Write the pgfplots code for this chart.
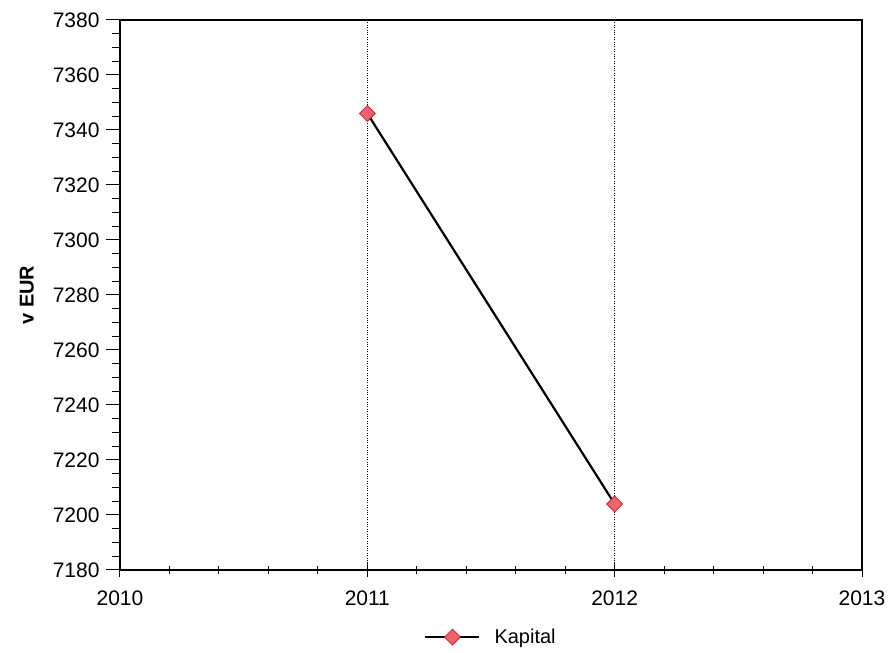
\documentclass[border=0pt]{standalone}
\usepackage{pgfplots}
\pgfplotsset{compat=1.18}
\usepackage{fontspec}
\setmainfont{Liberation Sans}
\definecolor{mk}{HTML}{F2626C}
\definecolor{mkd}{HTML}{D0202A}
\begin{document}
\begin{tikzpicture}
\begin{axis}[
  name=ax,
  scale only axis,
  width=742pt, height=550pt,
  xmin=2010, xmax=2013, ymin=7180, ymax=7380,
  xtick={2010,2011,2012,2013},
  xticklabels={2010,2011,2012,2013},
  ytick={7180,7200,...,7380},
  minor x tick num=4,
  minor y tick num=3,
  tick style={black, line width=1pt},
  major tick length=14pt,
  minor tick length=8pt,
  axis line style={black, line width=1.3pt},
  xtick pos=bottom, ytick pos=left,
  xtick align=center,
  ytick align=outside,
  xmajorgrids,
  major x grid style={black, dotted, line width=0.8pt},
  /pgf/number format/assume math mode=true,
  /pgf/number format/1000 sep={},
  ticklabel style={font=\fontsize{21}{24}\selectfont},
  xticklabel style={yshift=-10pt},
  yticklabel style={xshift=-3pt},
  ylabel={\textbf{v EUR}},
  ylabel style={font=\fontsize{20}{24}\selectfont, yshift=12pt},
  legend style={draw=none, at={(0.5,-0.122)}, anchor=center, font=\fontsize{20}{24}\selectfont, legend cell align=left,
    /tikz/every odd column/.style={column sep=12pt}},
  legend image code/.code={\draw[mark repeat=2,mark phase=2] plot coordinates {(0pt,0pt) (27pt,0pt) (54pt,0pt)};},
]
\addplot[black, line width=2.2pt, mark=square*, mark size=5.6pt,
  mark options={rotate=45, fill=mk, draw=mkd, line width=0.8pt}]
  coordinates {(2011,7346) (2012,7204)};
\addlegendentry{Kapital}
\end{axis}
\path[use as bounding box] ([shift={(-120pt,-83pt)}]ax.south west) rectangle ([shift={(27pt,20pt)}]ax.north east);
\end{tikzpicture}
\end{document}
